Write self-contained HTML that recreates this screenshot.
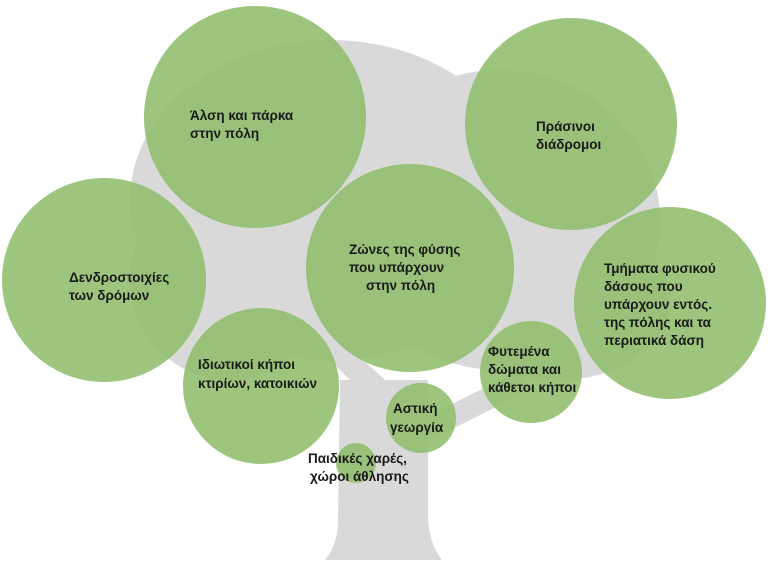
<!DOCTYPE html>
<html><head><meta charset="utf-8"><style>
html,body{margin:0;padding:0;background:#fff;}
svg{display:block}
text{font-family:"Liberation Sans","DejaVu Sans",sans-serif;font-size:13.5px;font-weight:bold;fill:#1a1a1a;}
</style></head><body>
<svg width="768" height="565" viewBox="0 0 768 565">
<g fill="#d9d9d9">
<ellipse cx="330" cy="200" rx="200" ry="160"/>
<ellipse cx="500" cy="220" rx="160" ry="150"/>
<ellipse cx="230" cy="280" rx="100" ry="100"/>
<ellipse cx="560" cy="300" rx="110" ry="80"/>
<path d="M340 380 L428 380 L428 520 Q430 545 442 560 L325 560 Q338 545 338 520 Z"/>
<path d="M360 390 L300 330 L320 320 L385 380 Z"/>
<path d="M420 420 L520 370 L530 390 L430 440 Z"/>
</g>
<g fill="#8fbd6b" fill-opacity="0.88">
<circle cx="255" cy="117" r="111"/>
<circle cx="571" cy="124" r="106"/>
<circle cx="104" cy="280" r="102"/>
<circle cx="410" cy="268" r="104"/>
<circle cx="670" cy="303" r="96"/>
<circle cx="261" cy="386" r="78"/>
<circle cx="531" cy="372" r="51"/>
<circle cx="421" cy="418" r="35"/>
<circle cx="356" cy="463" r="20"/>
</g>
<text x="190" y="120">Άλση και πάρκα</text>
<text x="190" y="138">στην πόλη</text>
<text x="536" y="131">Πράσινοι</text>
<text x="536" y="149">διάδρομοι</text>
<text x="69" y="282">Δενδροστοιχίες</text>
<text x="69" y="300">των δρόμων</text>
<text x="349" y="254">Ζώνες της φύσης</text>
<text x="349" y="272">που υπάρχουν</text>
<text x="366" y="290">στην πόλη</text>
<text x="604" y="273">Τμήματα φυσικού</text>
<text x="604" y="291">δάσους που</text>
<text x="604" y="309">υπάρχουν εντός.</text>
<text x="604" y="327">της πόλης και τα</text>
<text x="604" y="345">περιατικά δάση</text>
<text x="198" y="369">Ιδιωτικοί κήποι</text>
<text x="198" y="388">κτιρίων, κατοικιών</text>
<text x="488" y="356">Φυτεμένα</text>
<text x="488" y="374">δώματα και</text>
<text x="488" y="392">κάθετοι κήποι</text>
<text x="393" y="413">Αστική</text>
<text x="390" y="432">γεωργία</text>
<text x="308" y="463">Παιδικές χαρές,</text>
<text x="310" y="481">χώροι άθλησης</text>
</svg>
</body></html>
